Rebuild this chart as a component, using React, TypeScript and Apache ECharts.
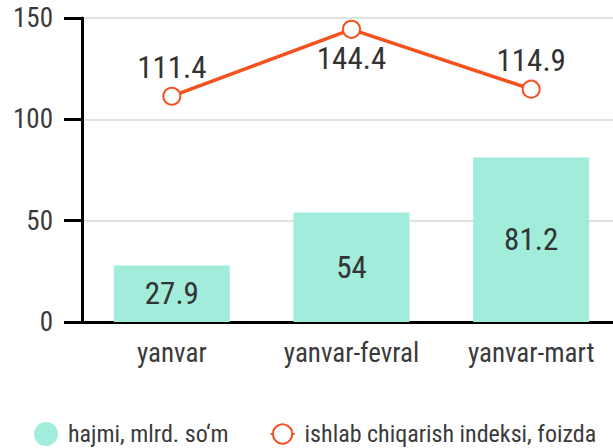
import React, { useEffect, useRef } from "react";
import * as echarts from "echarts";

const categories = ["yanvar", "yanvar-fevral", "yanvar-mart"];
const volume = [27.9, 54, 81.2];
const index = [111.4, 144.4, 114.9];
const indexLabelPos = ["top", "bottom", "top"];
const seriesNames = ["hajmi, mlrd. so‘m", "ishlab chiqarish indeksi, foizda"];

const FONT = "'Roboto Condensed', Roboto, sans-serif";

export default function App() {
  const ref = useRef<HTMLDivElement>(null);
  useEffect(() => {
    const chart = echarts.init(ref.current!, null, { renderer: "svg" });
    chart.setOption({
      animation: false,
      textStyle: { fontFamily: FONT },
      grid: { left: 82, right: 0, top: 18, height: 304, containLabel: false },
      legend: {
        top: 422,
        left: 34,
        padding: 0,
        itemGap: 41,
        itemWidth: 24,
        itemHeight: 24,
        textStyle: {
          fontSize: 24,
          color: "#3a3a3a",
          fontFamily: FONT,
          padding: [0, 0, 0, 5],
        },
        data: [
          { name: seriesNames[0], icon: "circle" },
          { name: seriesNames[1] },
        ],
      },
      xAxis: {
        type: "category",
        data: categories,
        axisLine: { lineStyle: { color: "#000", width: 3 } },
        axisTick: { alignWithLabel: true, length: 18, lineStyle: { width: 3, color: "#000" } },
        axisLabel: { fontSize: 27, color: "#3a3a3a", margin: 17, fontFamily: FONT },
      },
      yAxis: {
        type: "value",
        min: 0,
        max: 150,
        interval: 50,
        axisLine: { show: true, lineStyle: { color: "#000", width: 3 } },
        axisTick: { show: true, length: 18, lineStyle: { width: 3, color: "#000" } },
        axisLabel: { fontSize: 27, color: "#3a3a3a", margin: 29, fontFamily: FONT },
        splitLine: { lineStyle: { color: "#e2e2e2", width: 2 } },
      },
      series: [
        {
          name: seriesNames[0],
          type: "bar",
          data: volume,
          barWidth: 116,
          itemStyle: { color: "#a1ecdb" },
          label: {
            show: true,
            position: "inside",
            fontSize: 31,
            color: "#333",
            fontFamily: FONT,
          },
        },
        {
          name: seriesNames[1],
          type: "line",
          data: index.map((v, i) => ({
            value: v,
            label: { position: indexLabelPos[i] },
          })),
          symbol: "emptyCircle",
          symbolSize: 17,
          lineStyle: { color: "#f4511e", width: 3.5 },
          itemStyle: { color: "#f4511e", borderWidth: 3.5 },
          label: {
            show: true,
            fontSize: 31,
            color: "#333",
            distance: 4,
            fontFamily: FONT,
          },
        },
      ],
    });
    return () => chart.dispose();
  }, []);
  return (
    <div
      style={{
        position: "absolute",
        left: 0,
        top: 0,
        width: 613,
        height: 448,
        overflow: "hidden",
      }}
    >
      <div ref={ref} style={{ width: 621, height: 448 }} />
    </div>
  );
}
